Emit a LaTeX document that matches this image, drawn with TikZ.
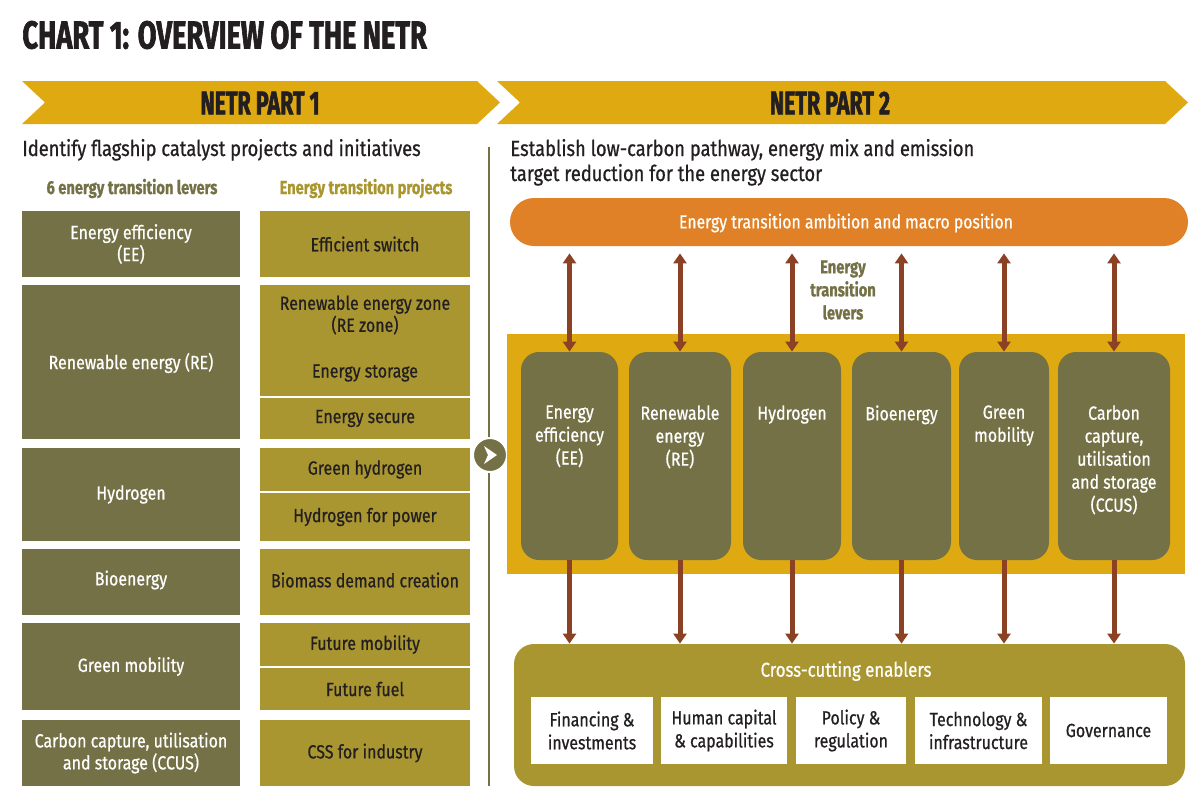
\documentclass[tikz,border=0pt]{standalone}
\usepackage{fontspec}
\setmainfont{Fira Sans}[FakeStretch=0.84, FakeBold=0.7]
\newfontfamily\headfont{Fira Sans}[FakeStretch=0.7, FakeBold=1.6]
\newfontfamily\chevfont{Fira Sans}[FakeStretch=0.65, FakeBold=1.6]
\newfontfamily\subfont{Fira Sans}[FakeStretch=0.78, FakeBold=0.8]
\usetikzlibrary{fit,arrows.meta}
\definecolor{olive}{RGB}{116,113,70}
\definecolor{ochre}{RGB}{169,150,49}
\definecolor{gold}{RGB}{223,169,17}
\definecolor{orng}{RGB}{224,129,40}
\definecolor{brwn}{RGB}{139,66,36}
\definecolor{ink}{RGB}{35,31,32}
\begin{document}
\begin{tikzpicture}[x=0.5pt,y=-0.5pt,
  every node/.style={inner sep=0pt},
  txt/.style={font=\fontsize{9.5}{11}\selectfont, align=center},
  levbox/.style={fill=olive},
  levt/.style={text=white, txt},
  projbox/.style={fill=ochre},
  projt/.style={text=ink, txt},
  leverbox/.style={fill=olive, rounded corners=9pt},
  levtxt/.style={text=white, font=\fontsize{9.5}{11.5}\selectfont, align=center},
  enabbox/.style={fill=white},
  enabt/.style={text=ink, font=\fontsize{9.5}{11.5}\selectfont, align=center},
  chevtxt/.style={font=\chevfont\bfseries\fontsize{16.5}{18}\selectfont, text=ink},
  colhead/.style={font=\subfont\bfseries\fontsize{9.4}{11}\selectfont},
  subtxt/.style={anchor=base west, text=ink, font=\fontsize{10.9}{12}\selectfont},
  dblarr/.style={draw=brwn, line width=2.5pt, {Triangle[width=6.5pt,length=5pt]}-{Triangle[width=6.5pt,length=5pt]}},
  onearr/.style={draw=brwn, line width=2.5pt, -{Triangle[width=6.5pt,length=5pt]}}
]
\useasboundingbox (0,0) rectangle (1200,800);
\fill[white] (0,0) rectangle (1200,800);

% title
\node[anchor=west, font=\headfont\bfseries\fontsize{19.5}{22}\selectfont, text=ink] (title) at (22,35) {CHART 1: OVERVIEW OF THE NETR};

% chevrons
\fill[gold] (22,81) -- (477,81) -- (500,102.5) -- (477,124) -- (22,124) -- (45,102.5) -- cycle;
\fill[gold] (497,81) -- (1165,81) -- (1188,102.5) -- (1165,124) -- (497,124) -- (520,102.5) -- cycle;
\node[chevtxt] (p1) at (260,103) {NETR PART 1};
\node[chevtxt] (p2) at (830,103) {NETR PART 2};

% subtitles
\node[subtxt] (sub1) at (22,156) {Identify flagship catalyst projects and initiatives};
\node[subtxt] (sub2) at (510,156) {Establish low-carbon pathway, energy mix and emission};
\node[subtxt] (sub3) at (510,181) {target reduction for the energy sector};

% column headers
\node[colhead, text=olive, anchor=base] (h1) at (132,194) {6 energy transition levers};
\node[colhead, text=ochre, anchor=base] (h2) at (366,194) {Energy transition projects};

% separator line
\draw[olive, line width=1pt] (489,147) -- (489,786);

% left levers
\node[levbox, fit={(22,211) (240,277)}] (l1) {};
\node[levt] (l1t) at (l1.center) {Energy efficiency\\(EE)};
\node[levbox, fit={(22,285) (240,439)}] (l2) {};
\node[levt] (l2t) at (131,363) {Renewable energy (RE)};
\node[levbox, fit={(22,448) (240,541)}] (l3) {};
\node[levt] (l3t) at (l3.center) {Hydrogen};
\node[levbox, fit={(22,549) (240,615)}] (l4) {};
\node[levt] (l4t) at (131,580) {Bioenergy};
\node[levbox, fit={(22,623) (240,710)}] (l5) {};
\node[levt] (l5t) at (l5.center) {Green mobility};
\node[levbox, fit={(22,720) (240,786)}] (l6) {};
\node[levt] (l6t) at (l6.center) {Carbon capture, utilisation\\and storage (CCUS)};

% projects
\node[projbox, fit={(260,211) (470,277)}] (r1) {};
\node[projt] (r1t) at (r1.center) {Efficient switch};
\node[projbox, fit={(260,285) (470,396)}] (r2) {};
\node[projt] (r2a) at (365,315) {Renewable energy zone\\(RE zone)};
\node[projt] (r2b) at (365,373) {Energy storage};
\node[projbox, fit={(260,398) (470,439)}] (r3) {};
\node[projt] (r3t) at (r3.center) {Energy secure};
\node[projbox, fit={(260,448) (470,491)}] (r4) {};
\node[projt] (r4t) at (r4.center) {Green hydrogen};
\node[projbox, fit={(260,493) (470,541)}] (r5) {};
\node[projt] (r5t) at (r5.center) {Hydrogen for power};
\node[projbox, fit={(260,549) (470,615)}] (r6) {};
\node[projt] (r6t) at (365,580) {Biomass demand creation};
\node[projbox, fit={(260,623) (470,666)}] (r7) {};
\node[projt] (r7t) at (r7.center) {Future mobility};
\node[projbox, fit={(260,668) (470,710)}] (r8) {};
\node[projt] (r8t) at (r8.center) {Future fuel};
\node[projbox, fit={(260,720) (470,786)}] (r9) {};
\node[projt] (r9t) at (r9.center) {CSS for industry};

% go circle
\node[circle, fill=olive, draw=white, line width=1pt, minimum size=17pt] (go) at (490,455) {};
\fill[white] ([shift={(-6,-9)}]go.center) -- ([shift={(7,0)}]go.center) -- ([shift={(-6,9)}]go.center) -- ([shift={(-2,0)}]go.center) -- cycle;

% ambition bar
\node[fill=orng, rounded corners=12pt, fit={(510,198) (1188,246)}] (amb) {};
\node[text=white, font=\fontsize{9.4}{12}\selectfont] (ambt) at (846,223) {Energy transition ambition and macro position};

% lever label
\node[text=olive, font=\subfont\bfseries\fontsize{9.4}{11.5}\selectfont, align=center] (levlab) at (843,290) {Energy\\transition\\levers};

% lever band
\node[fill=gold, fit={(507,334) (1185,574)}] (band) {};
\node[leverbox, fit={(521,352) (618,560)}] (v1) {};
\node[leverbox, fit={(629,352) (731,560)}] (v2) {};
\node[leverbox, fit={(743,352) (841,560)}] (v3) {};
\node[leverbox, fit={(852,352) (951,560)}] (v4) {};
\node[leverbox, fit={(959,352) (1049,560)}] (v5) {};
\node[leverbox, fit={(1058,352) (1170,560)}] (v6) {};
\node[levtxt, anchor=north] (t1) at (569.5,405) {Energy\\efficiency\\(EE)};
\node[levtxt, anchor=north] (t2) at (680,405) {Renewable\\energy\\(RE)};
\node[levtxt, anchor=north] (t3) at (792,405) {Hydrogen};
\node[levtxt, anchor=north] (t4) at (901.5,405) {Bioenergy};
\node[levtxt, anchor=north] (t5) at (1004,405) {Green\\mobility};
\node[levtxt, anchor=north] (t6) at (1114,405) {Carbon\\capture,\\utilisation\\and storage\\(CCUS)};

% enablers
\node[fill=ochre, rounded corners=10pt, fit={(514,644) (1185,786)}] (enab) {};
\node[text=white, font=\fontsize{10}{12}\selectfont] (enabt) at (846,671) {Cross-cutting enablers};
\node[enabbox, fit={(531,697) (653,764)}] (e1) {};
\node[enabt] (e1t) at (e1.center) {Financing \&\\investments};
\node[enabbox, fit={(661,697) (787,764)}] (e2) {};
\node[enabt] (e2t) at (e2.center) {Human capital\\\& capabilities};
\node[enabbox, fit={(796,697) (906,764)}] (e3) {};
\node[enabt] (e3t) at (e3.center) {Policy \&\\regulation};
\node[enabbox, fit={(915,697) (1042,764)}] (e4) {};
\node[enabt] (e4t) at (e4.center) {Technology \&\\infrastructure};
\node[enabbox, fit={(1050,697) (1167,764)}] (e5) {};
\node[enabt] (e5t) at (e5.center) {Governance};

% arrows
\foreach \v in {v1,v2,v3,v4,v5,v6}{
  \draw[dblarr, shorten >=3.5pt] (\v.north) -- (\v.north |- amb.south);
  \draw[onearr] (\v.south) -- (\v.south |- enab.north);
}
\end{tikzpicture}
\end{document}
